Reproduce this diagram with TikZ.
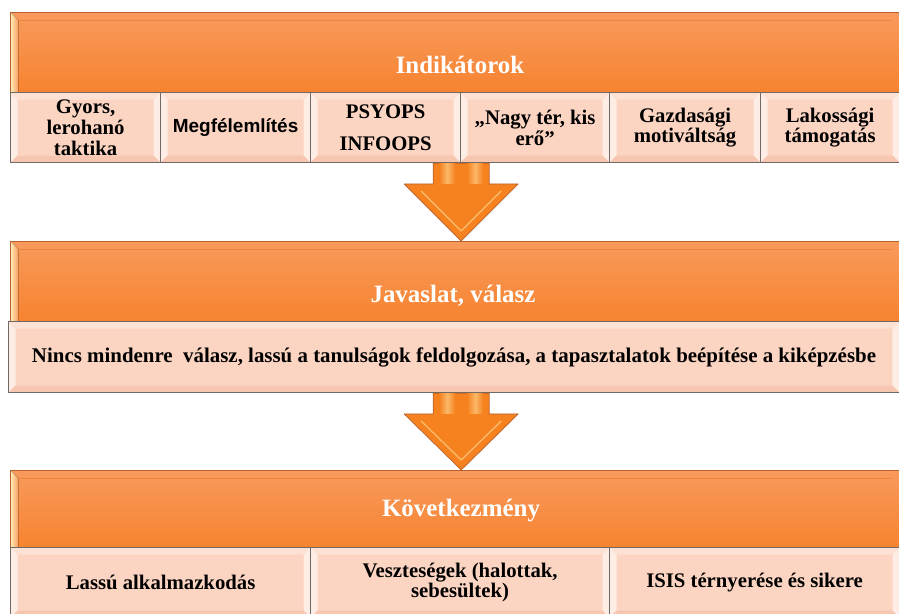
\documentclass[tikz,border=0pt]{standalone}
\usepackage{fontspec}
\setmainfont{Liberation Serif}
\newfontfamily\timesfont{Liberation Serif}
\newfontfamily\arialfont{Liberation Sans}
\usetikzlibrary{calc}

\definecolor{bartop}{HTML}{F89A5C}
\definecolor{barbot}{HTML}{F7832F}
\definecolor{barline}{HTML}{B8612E}
\definecolor{barhi}{HTML}{FFEFB8}
\definecolor{peach}{HTML}{FCD4C2}
\definecolor{peachhi}{HTML}{FEEDE4}
\definecolor{peachlo}{HTML}{F6C6B0}
\definecolor{cellline}{HTML}{6E6A68}
\definecolor{arrfill}{HTML}{F5821F}
\definecolor{arrhi}{HTML}{FBB868}

\tikzset{
  bar/.style={draw=barline,line width=0.5pt,top color=bartop,bottom color=barbot,
    anchor=north west,inner sep=0pt,
    path picture={
      \coordinate (nw) at (path picture bounding box.north west);
      \coordinate (se) at (path picture bounding box.south east);
      \fill[left color=barhi,right color=bartop] (nw) -- (nw|-se) -- ($(nw|-se)+(8,0)$) -- ($(nw)+(8,8)$) -- cycle;
      \draw[barbot!90!black,line width=0.3pt,opacity=0.5] ($(nw)+(8,8)$) -- ($(nw-|se)+(-8,8)$);
    }},
  cell/.style={draw=cellline,line width=0.7pt,fill=peach,anchor=north west,inner sep=2pt,
    minimum height=1.4cm,align=center,font=\timesfont\bfseries\fontsize{11.8}{11.8}\selectfont,
    path picture={
      \coordinate (nw) at (path picture bounding box.north west);
      \coordinate (se) at (path picture bounding box.south east);
      \fill[peachhi] (nw) -- (nw|-se) -- ($(nw|-se)+(7,-7)$) -- ($(nw)+(7,7)$) -- cycle;
      \fill[peachhi] (se) -- (nw-|se) -- ($(nw-|se)+(-7,7)$) -- ($(se)+(-7,-7)$) -- cycle;
      \fill[peach!70!white] (nw) -- (nw-|se) -- ($(nw-|se)+(-7,7)$) -- ($(nw)+(7,7)$) -- cycle;
      \fill[peachlo] (nw|-se) -- (se) -- ($(se)+(-7,-7)$) -- ($(nw|-se)+(7,-7)$) -- cycle;
    }},
  head/.style={font=\timesfont\bfseries\fontsize{14.2}{16}\selectfont,text=white,inner sep=0pt},
  blockarrow/.style={draw=barline,line width=0.4pt,fill=arrfill},
  shafthi/.style={left color=arrfill,right color=arrfill,middle color=arrhi}
}

\begin{document}
\begin{tikzpicture}[x=0.02cm,y=-0.02cm,line join=round]
  \useasboundingbox (0,0) rectangle (899,614);
  % Indikatorok
  \node[bar,minimum width=17.78cm,minimum height=1.6cm] (indik) at (10,12) {};
  \node[head] (indikT) at (460,65) {Indikátorok};
  \foreach \i/\x/\w/\t in {1/10/3/{Gyors,\\lerohanó\\taktika},
                           2/160/3/{\arialfont\fontsize{10.8}{12}\selectfont Megfélemlítés},
                           3/310/3/{PSYOPS\\[6pt]INFOOPS},
                           4/460/2.98/{„Nagy tér, kis\\erő”},
                           5/609/3.02/{Gazdasági\\motiváltság},
                           6/760/2.78/{Lakossági\\támogatás}} {
    \node[cell,minimum width=\w cm] (b\i) at (\x,92) {\t};
  }
  % Javaslat, valasz
  \node[bar,minimum width=17.78cm,minimum height=1.6cm] (jav) at (10,241) {};
  \node[head] (javT) at (453,296) {Javaslat, válasz};
  \node[cell,minimum width=17.82cm,minimum height=1.42cm,font=\timesfont\bfseries\fontsize{11.9}{12}\selectfont] (valasz) at (8,321)
    {Nincs mindenre\ \ válasz, lassú a tanulságok feldolgozása, a tapasztalatok beépítése a kiképzésbe};
  % Kovetkezmeny
  \node[bar,minimum width=17.78cm,minimum height=1.54cm] (kov) at (10,470) {};
  \node[head] (kovT) at (461,511) {Következmény};
  \foreach \i/\x/\w/\t in {1/10/6/{Lassú alkalmazkodás},
                           2/310/5.98/{Veszteségek (halottak,\\sebesültek)},
                           3/609/5.8/{ISIS térnyerése és sikere}} {
    \node[cell,minimum width=\w cm] (c\i) at (\x,547) {\t};
  }
  % arrows
  \coordinate (a1) at (b3.south east);
  \coordinate (t1) at (a1 |- jav.north);
  \draw[blockarrow] (t1) -- ($(t1)+(-57,-57)$) -- ($(t1)+(-28,-57)$) -- ($(a1)+(-28,0)$)
    -- ($(a1)+(28,0)$) -- ($(t1)+(28,-57)$) -- ($(t1)+(57,-57)$) -- cycle;
  \fill[shafthi] ($(a1)+(-22,0.5)$) rectangle ($(t1)+(-6,-57)$);
  \fill[shafthi] ($(a1)+(6,0.5)$) rectangle ($(t1)+(22,-57)$);
  \draw[arrhi,line width=0.8pt] ($(t1)+(-40,-50)$) -- ($(t1)+(0,-10)$) -- ($(t1)+(40,-50)$);
  \coordinate (a2) at (valasz.south -| a1);
  \coordinate (t2) at (a2 |- kov.north);
  \draw[blockarrow] (t2) -- ($(t2)+(-57,-56)$) -- ($(t2)+(-28,-56)$) -- ($(a2)+(-28,0)$)
    -- ($(a2)+(28,0)$) -- ($(t2)+(28,-56)$) -- ($(t2)+(57,-56)$) -- cycle;
  \fill[shafthi] ($(a2)+(-22,0.5)$) rectangle ($(t2)+(-6,-56)$);
  \fill[shafthi] ($(a2)+(6,0.5)$) rectangle ($(t2)+(22,-56)$);
  \draw[arrhi,line width=0.8pt] ($(t2)+(-40,-49)$) -- ($(t2)+(0,-10)$) -- ($(t2)+(40,-49)$);
\end{tikzpicture}
\end{document}
